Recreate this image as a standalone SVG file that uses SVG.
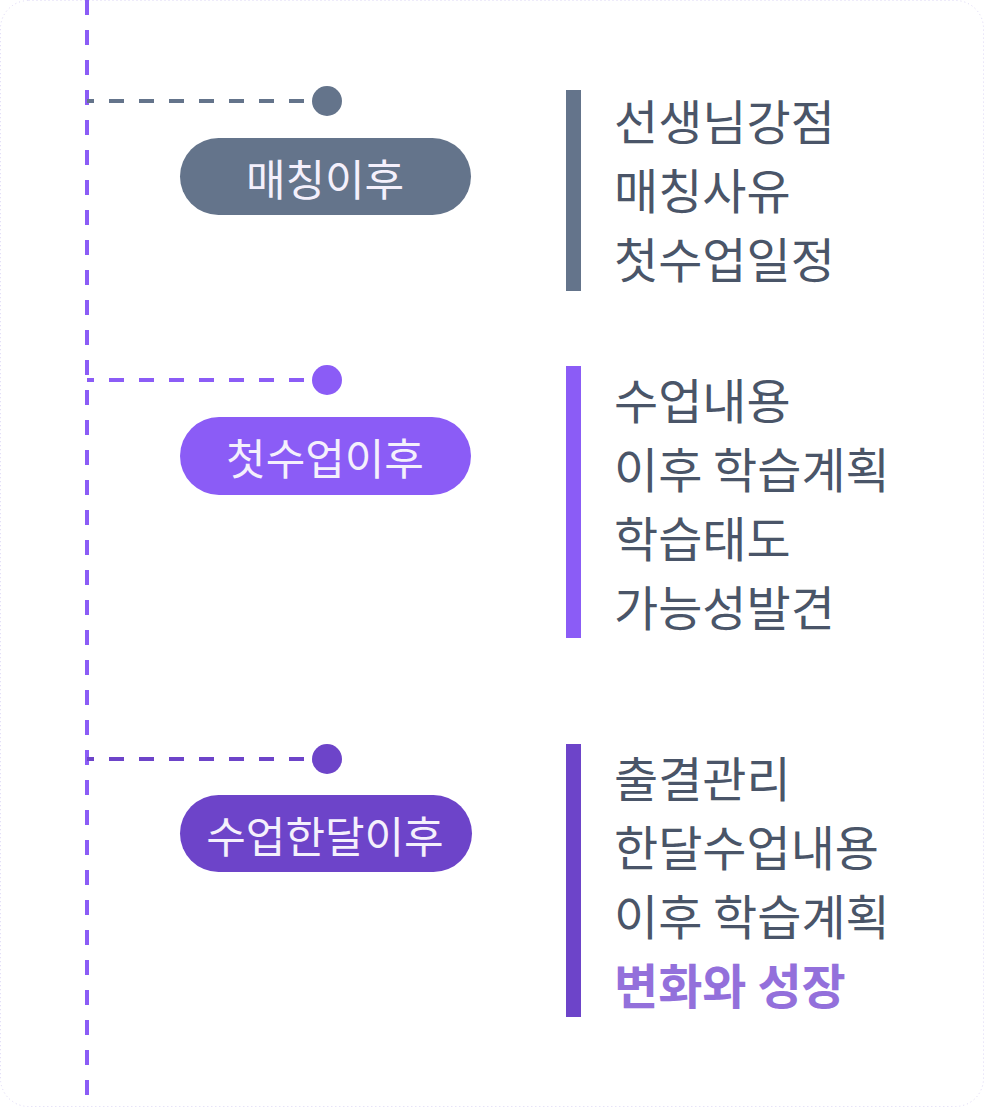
<svg xmlns="http://www.w3.org/2000/svg" width="984" height="1107" viewBox="0 0 984 1107">
<style>
.pill-t{font-family:"Noto Sans CJK KR","Noto Sans",sans-serif;font-size:43px;fill:#f4f0fc;text-anchor:middle;dominant-baseline:central}
.item{font-family:"Noto Sans CJK KR","Noto Sans",sans-serif;font-size:48px;fill:#4a5568}
.hl{fill:#9370db;font-weight:700}
.dash{stroke-width:4;stroke-dasharray:15 15;fill:none}
</style>
<rect x="0.5" y="0.5" width="983" height="1106" rx="28" fill="#ffffff" stroke="#dcd6f5" stroke-width="1" stroke-dasharray="1 3"/>
<g id="connectors">
<line x1="87" y1="0" x2="87" y2="1107" class="dash" stroke="#8b5cf6"/>
<line x1="87" y1="101" x2="312" y2="101" class="dash" stroke="#64748b" stroke-dashoffset="8"/>
<line x1="87" y1="380" x2="312" y2="380" class="dash" stroke="#8b5cf6" stroke-dashoffset="8"/>
<line x1="87" y1="759" x2="312" y2="759" class="dash" stroke="#6d44c9" stroke-dashoffset="8"/>
<circle cx="327" cy="101" r="15" fill="#64748b"/>
<circle cx="327" cy="380" r="15" fill="#8b5cf6"/>
<circle cx="327" cy="759" r="15" fill="#6d44c9"/>
</g>
<g id="node-1">
<rect x="180" y="138" width="291" height="77" rx="38.5" fill="#64748b"/>
<text x="325" y="177" class="pill-t">매칭이후</text>
</g>
<g id="list-1">
<rect x="566" y="90" width="15" height="201" fill="#64748b"/>
<text x="614" y="140" class="item">선생님강점</text>
<text x="614" y="209" class="item">매칭사유</text>
<text x="614" y="278" class="item">첫수업일정</text>
</g>
<g id="node-2">
<rect x="180" y="417" width="291" height="78" rx="39" fill="#8b5cf6"/>
<text x="325" y="456" class="pill-t">첫수업이후</text>
</g>
<g id="list-2">
<rect x="566" y="366" width="15" height="272" fill="#8b5cf6"/>
<text x="614" y="419" class="item">수업내용</text>
<text x="614" y="488" class="item">이후 학습계획</text>
<text x="614" y="557" class="item">학습태도</text>
<text x="614" y="626" class="item">가능성발견</text>
</g>
<g id="node-3">
<rect x="180" y="795" width="292" height="77" rx="38.5" fill="#6d44c9"/>
<text x="325" y="834" class="pill-t">수업한달이후</text>
</g>
<g id="list-3">
<rect x="566" y="744" width="15" height="273" fill="#6d44c9"/>
<text x="614" y="797" class="item">출결관리</text>
<text x="614" y="866" class="item">한달수업내용</text>
<text x="614" y="935" class="item">이후 학습계획</text>
<text x="614" y="1004" class="item hl">변화와 성장</text>
</g>
</svg>
